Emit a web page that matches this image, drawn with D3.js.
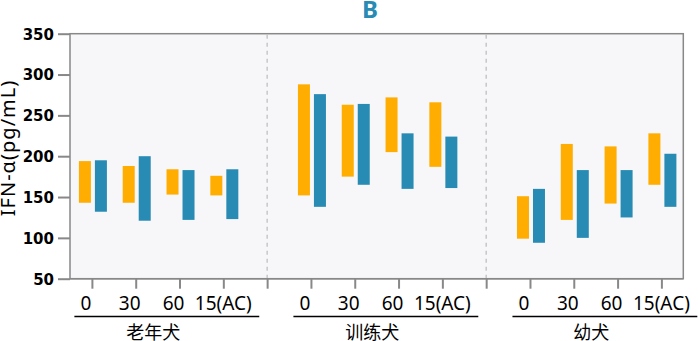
<!DOCTYPE html>
<html>
<head>
<meta charset="utf-8">
<script src="https://cdn.jsdelivr.net/npm/d3@7"></script>
<style>
  body { margin: 0; background: #fff; }
  svg { display: block; font-family: "Noto Sans", "Noto Sans CJK SC", sans-serif; }
  .yaxis text { font-family: "DejaVu Sans", sans-serif; font-weight: bold; font-size: 15px; fill: #000; }
  .axis line { stroke: #888; stroke-width: 2; }
  .axis path { display: none; }
</style>
</head>
<body>
<svg id="graph"></svg>
<script>
var groups = ["老年犬", "训练犬", "幼犬"],
	times = ["0", "30", "60", "15(AC)"],
	yTicks = [50, 100, 150, 200, 250, 300, 350];

// floating bars, low/high per time point, groups in order
var orangeHigh = [194, 188, 184, 176, 288, 263, 272, 266, 151, 215, 212, 228],
	orangeLow = [143, 143, 153, 152, 152, 175, 205, 187, 99, 122, 142, 165],
	blueHigh = [195, 200, 183, 184, 276, 264, 228, 224, 160, 183, 183, 203],
	blueLow = [132, 121, 122, 123, 138, 165, 160, 161, 94, 100, 125, 138];

(function() {
var orange = "#ffad00", blue = "#288bb4";

var width = 698, height = 341,
	pLeft = 70, pRight = 683.3, pTop = 33.7, pBottom = 278.7;

var graph = d3.select("#graph").attr("width", width).attr("height", height);

// one slot per time point, an empty slot between groups
var slot = function(g, t) { return g * (times.length + 1) + t; };
var x = d3.scaleLinear().domain([-0.5, groups.length * (times.length + 1) - 1.5]).range([pLeft, pRight]),
	y = d3.scaleLinear().domain([50, 350]).range([pBottom, pTop]);

var unit = x(1) - x(0),
	bw = 0.274 * unit;

graph.append("rect")
	.attr("x", pLeft).attr("y", pTop)
	.attr("width", pRight - pLeft).attr("height", pBottom - pTop)
	.attr("fill", "#f7f7f9").attr("stroke", "#888").attr("stroke-width", 1.5);

// dashed separators between groups
var seps = d3.range(1, groups.length).map(function(g) { return slot(g, -1); });
graph.selectAll(".sep").data(seps).enter().append("line")
	.attr("class", "sep")
	.attr("x1", function(d) { return x(d); }).attr("x2", function(d) { return x(d); })
	.attr("y1", pTop + 1).attr("y2", pBottom)
	.attr("stroke", "#bbb").attr("stroke-width", 1.2).attr("stroke-dasharray", "4,4");

var bars = [];
groups.forEach(function(g, gi) {
	times.forEach(function(t, ti) {
		var i = gi * times.length + ti;
		bars.push({pos: slot(gi, ti), lo: orangeLow[i], hi: orangeHigh[i], color: orange, off: -13});
		bars.push({pos: slot(gi, ti), lo: blueLow[i], hi: blueHigh[i], color: blue, off: 3});
	});
});

graph.selectAll(".bar").data(bars).enter().append("rect")
	.attr("class", "bar")
	.attr("x", function(d) { return x(d.pos) + d.off; })
	.attr("y", function(d) { return y(d.hi); })
	.attr("width", bw)
	.attr("height", function(d) { return y(d.lo) - y(d.hi); })
	.attr("fill", function(d) { return d.color; });

//axes
graph.append("g")
	.attr("class", "axis yaxis")
	.attr("transform", "translate(" + pLeft + ",0)")
	.call(d3.axisLeft(y).tickValues(yTicks).tickSize(12).tickPadding(4))
	.selectAll("text").attr("dy", "0.36em");

var tickPos = [];
groups.forEach(function(g, gi) {
	times.forEach(function(t, ti) { tickPos.push(slot(gi, ti)); });
});
graph.append("g")
	.attr("class", "axis xaxis")
	.attr("transform", "translate(0," + pBottom + ")")
	.call(d3.axisBottom(x).tickValues(tickPos.concat(seps)).tickSize(10).tickFormat(""));

graph.append("line")
	.attr("x1", pLeft).attr("x2", pRight).attr("y1", pBottom).attr("y2", pBottom)
	.attr("stroke", "#888").attr("stroke-width", 1.5);

groups.forEach(function(g, gi) {
	graph.selectAll(".tlab" + gi).data(times).enter().append("text")
		.attr("class", "tlab" + gi)
		.attr("x", function(d, ti) { return x(slot(gi, ti)) + (d.length > 3 ? 0 : -6); })
		.attr("y", 309.5)
		.attr("text-anchor", "middle")
		.attr("font-size", "19px")
		.text(function(d) { return d; });

	graph.append("line")
		.attr("x1", x(slot(gi, 0) - 0.4)).attr("x2", x(slot(gi, times.length - 1) + 0.82))
		.attr("y1", 316.5).attr("y2", 316.5)
		.attr("stroke", "#000").attr("stroke-width", 1.5);

	graph.append("text")
		.attr("x", x(slot(gi, 0) + 1.4))
		.attr("y", 338.5)
		.attr("text-anchor", "middle")
		.attr("font-family", "Noto Sans CJK SC")
		.attr("font-size", "18px")
		.text(g);
});

graph.append("text")
	.attr("transform", "translate(15,148) rotate(-90)")
	.attr("text-anchor", "middle")
	.attr("font-size", "20px")
	.attr("letter-spacing", "1px")
	.text("IFN-α(pg/mL)");

graph.append("text")
	.attr("x", 370).attr("y", 18)
	.attr("text-anchor", "middle")
	.attr("font-weight", "bold")
	.attr("font-size", "24px")
	.attr("fill", blue)
	.text("B");
})();
</script>
</body>
</html>
